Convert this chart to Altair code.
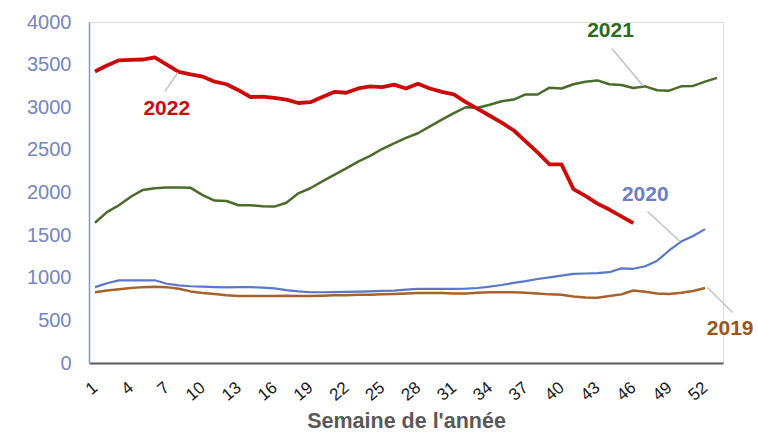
import altair as alt
import pandas as pd

weeks_2019 = list(range(1, 53))
v2019 = [830, 850, 865, 880, 890, 895, 890, 870, 840, 820,
         810, 795, 785, 785, 785, 785, 790, 785, 785, 790,
         795, 795, 800, 800, 805, 810, 815, 820, 820, 820,
         815, 815, 825, 830, 830, 830, 825, 815, 805, 800,
         780, 768, 765, 785, 805, 850, 835, 815, 810, 825,
         845, 880]

weeks_2020 = list(range(1, 53))
v2020 = [890, 935, 970, 970, 970, 970, 930, 910, 900, 895,
         890, 888, 890, 890, 885, 875, 855, 840, 830, 830,
         832, 835, 838, 840, 845, 850, 860, 870, 870, 870,
         870, 872, 880, 895, 915, 940, 960, 985, 1005, 1025,
         1045, 1050, 1055, 1065, 1110, 1105, 1135, 1200, 1320, 1425,
         1490, 1570]

weeks_2021 = list(range(1, 54))
v2021 = [1645, 1770, 1850, 1950, 2030, 2050, 2060, 2060, 2055, 1970,
         1905, 1900, 1850, 1850, 1840, 1835, 1880, 1990, 2050, 2130,
         2207, 2284, 2362, 2430, 2510, 2575, 2640, 2695, 2775, 2855,
         2930, 3000, 2995, 3030, 3070, 3090, 3150, 3150, 3230, 3220,
         3270, 3300, 3315, 3270, 3260, 3225, 3245, 3200, 3195, 3245,
         3250, 3300, 3345]

weeks_2022 = list(range(1, 47))
v2022 = [3420, 3490, 3550, 3555, 3560, 3585, 3500, 3415, 3385, 3360,
         3300, 3270, 3200, 3120, 3125, 3110, 3090, 3050, 3060, 3120,
         3180, 3170, 3220, 3245, 3235, 3265, 3220, 3275, 3220, 3180,
         3150, 3060, 2980, 2900, 2820, 2730, 2600, 2470, 2330, 2330,
         2040, 1960, 1870, 1800, 1720, 1640]

years = ["2019", "2020", "2021", "2022"]
line_colors = ["#a5622a", "#5b77c5", "#4a6b2a", "#cc0a0a"]
label_colors = ["#9c5518", "#6a80c0", "#2d6a1f", "#cc0a0a"]
line_widths = [2.5, 2.2, 2.5, 3.8]

x_ticks = list(range(1, 53, 3))

# annotation labels (data coordinates)
label_week = [54.1, 47.0, 44.1, 7.0]
label_value = [393, 1970, 3889, 2985]
# leader lines (data coordinates)
lead_w1 = [52.2, 47.2, 44.2, 6.85]
lead_v1 = [886, 1777, 3689, 3185]
lead_w2 = [54.3, 49.9, 46.8, 7.94]
lead_v2 = [592, 1425, 3255, 3408]

rows = []
for yr, wk, vals in [("2019", weeks_2019, v2019), ("2020", weeks_2020, v2020),
                     ("2021", weeks_2021, v2021), ("2022", weeks_2022, v2022)]:
    for w, v in zip(wk, vals):
        rows.append({"year": yr, "week": w, "value": v})
df = pd.DataFrame(rows)

lab_df = pd.DataFrame({"year": years, "week": label_week, "value": label_value,
                       "color": label_colors})
lead_df = pd.DataFrame({"year": years, "w1": lead_w1, "v1": lead_v1,
                        "w2": lead_w2, "v2": lead_v2})

FONT = "Liberation Sans"

xscale = alt.Scale(domain=[0.5, 53.5], nice=False, zero=False)
yscale = alt.Scale(domain=[0, 4000], nice=False)

x_axis = alt.Axis(values=x_ticks, labelAngle=-40, labelAlign="right",
                  labelBaseline="middle", labelPadding=22, ticks=False,
                  grid=False, domainColor="#595959", domainWidth=2,
                  labelFont=FONT, labelFontSize=17, labelColor="#1a1a1a",
                  title="Semaine de l'année", titleFont=FONT, titleFontSize=21.5,
                  titleFontWeight="bold", titleColor="#595959", titlePadding=7,
                  labelFlush=False, labelOverlap=False, format="d")
y_axis = alt.Axis(values=list(range(0, 4001, 500)), ticks=False, grid=False,
                  domainColor="#8096d0", domainWidth=1.5, labelFont=FONT,
                  labelFontSize=20, labelColor="#7585bd", labelPadding=18,
                  title=None, labelFlush=False, labelOverlap=False, format="d")

lines = []
for yr, col, lw in zip(years, line_colors, line_widths):
    lines.append(
        alt.Chart(df[df["year"] == yr]).mark_line(color=col, strokeWidth=lw,
                                                   strokeJoin="round")
        .encode(x=alt.X("week:Q", scale=xscale, axis=x_axis),
                y=alt.Y("value:Q", scale=yscale, axis=y_axis))
    )

leads = alt.Chart(lead_df).mark_rule(color="#bfbfbf", strokeWidth=1.3, clip=False).encode(
    x=alt.X("w1:Q", scale=xscale, axis=x_axis), y=alt.Y("v1:Q", scale=yscale, axis=y_axis),
    x2="w2:Q", y2="v2:Q")

labels = alt.Chart(lab_df).mark_text(font=FONT, fontSize=21, fontWeight="bold",
                                     baseline="middle", align="center", clip=False).encode(
    x=alt.X("week:Q", scale=xscale, axis=x_axis), y=alt.Y("value:Q", scale=yscale, axis=y_axis),
    text="year:N", color=alt.Color("color:N", scale=None))

chart = alt.layer(*lines, leads, labels).properties(
    width=634, height=341,
    autosize=alt.AutoSizeParams(type="none"),
    padding={"left": 89, "top": 22, "right": 35, "bottom": 70},
).configure_view(stroke=None).configure(background="white").configure_axis(labelOverlap=False)

chart.save("out.html", embed_options={"renderer": "svg", "actions": False})
